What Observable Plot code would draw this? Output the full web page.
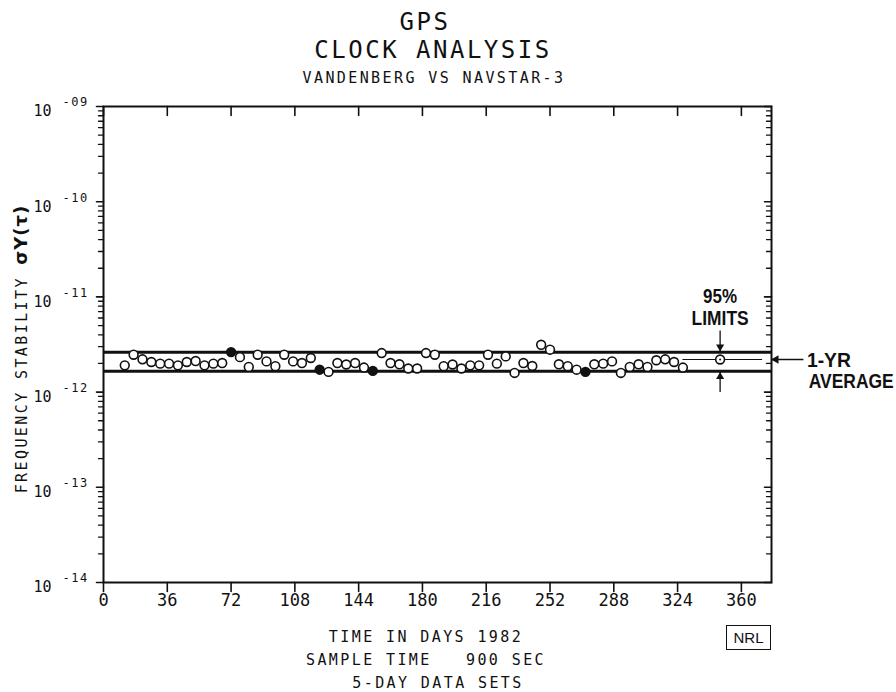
<!DOCTYPE html>
<html>
<head>
<meta charset="utf-8">
<script src="https://cdn.jsdelivr.net/npm/d3@7"></script>
<script src="https://cdn.jsdelivr.net/npm/@observablehq/plot@0.6"></script>
<style>
  body { margin: 0; background: #fff; }
  #wrap { position: relative; width: 896px; height: 692px; overflow: hidden; font-family: "DejaVu Sans Mono", monospace; color: #111; background: #fff; }
  #wrap svg { position: absolute; left: 0; top: 0; }
  .t { position: absolute; white-space: pre; transform: translate(-50%, -50%); line-height: 1; }
  .ytitle { position: absolute; white-space: pre; transform: translate(-50%, -50%) rotate(-90deg); line-height: 1; font-size: 15px; letter-spacing: 2.4px; }
  .ytitle b { font-family: "DejaVu Sans", sans-serif; font-size: 18px; letter-spacing: 1px; }
  .nrl { position: absolute; left: 726px; top: 625px; width: 45px; height: 25px; border: 1.6px solid #111; font-family: "Liberation Sans", Arial, sans-serif; font-size: 15px; display: flex; align-items: center; justify-content: center; box-sizing: border-box; }
</style>
</head>
<body>
<div id="wrap">
  <div class="t" style="left:425px;top:22px;font-size:24px;letter-spacing:2.5px">GPS</div>
  <div class="t" style="left:433px;top:50px;font-size:24px;letter-spacing:2.5px">CLOCK ANALYSIS</div>
  <div class="t" style="left:434px;top:78px;font-size:15px;letter-spacing:2.4px">VANDENBERG VS NAVSTAR-3</div>
  <div class="ytitle" style="left:21px;top:349px">FREQUENCY STABILITY <b>σY(τ)</b></div>
  <div class="t" style="left:426px;top:637px;font-size:15px;letter-spacing:2.4px">TIME IN DAYS 1982</div>
  <div class="t" style="left:426px;top:660px;font-size:15px;letter-spacing:2.4px">SAMPLE TIME   900 SEC</div>
  <div class="t" style="left:438px;top:683px;font-size:15px;letter-spacing:2.4px">5-DAY DATA SETS</div>
  <div class="nrl">NRL</div>
</div>
<script>
// ---- data ----
const days = [12, 17, 22, 27, 32, 37, 42, 47, 52, 57, 62, 67, 72, 77, 82, 87, 92, 97, 102, 107,
  112, 117, 122, 127, 132, 137, 142, 147, 152, 157, 162, 167, 172, 177, 182, 187, 192, 197, 202, 207,
  212, 217, 222, 227, 232, 237, 242, 247, 252, 257, 262, 267, 272, 277, 282, 287, 292, 297, 302, 307,
  312, 317, 322, 327];
const stability = [1.91e-12, 2.47e-12, 2.21e-12, 2.07e-12, 1.99e-12, 1.99e-12, 1.91e-12, 2.07e-12, 2.12e-12, 1.91e-12,
  1.99e-12, 2.02e-12, 2.63e-12, 2.33e-12, 1.84e-12, 2.47e-12, 2.10e-12, 1.87e-12, 2.47e-12, 2.10e-12,
  2.02e-12, 2.28e-12, 1.72e-12, 1.63e-12, 2.02e-12, 1.95e-12, 2.02e-12, 1.81e-12, 1.67e-12, 2.57e-12,
  2.02e-12, 1.96e-12, 1.77e-12, 1.77e-12, 2.57e-12, 2.47e-12, 1.87e-12, 1.95e-12, 1.77e-12, 1.91e-12,
  1.91e-12, 2.47e-12, 1.99e-12, 2.37e-12, 1.59e-12, 2.02e-12, 1.88e-12, 3.14e-12, 2.79e-12, 1.96e-12,
  1.87e-12, 1.72e-12, 1.63e-12, 1.96e-12, 1.99e-12, 2.10e-12, 1.59e-12, 1.84e-12, 1.96e-12, 1.84e-12,
  2.16e-12, 2.21e-12, 2.07e-12, 1.81e-12];
const filledDays = [72, 122, 152, 272];
const upperLimit = 2.62e-12;
const lowerLimit = 1.66e-12;
const yearAverage = 2.20e-12;
const legendDay = 348;
const averageSpan = [327, 372];
const limitArrowEnds = [4.44e-12, 1.0e-12];
const averageArrowFrom = 395;
const averageArrowTo = 377;

const xTicks = [0, 36, 72, 108, 144, 180, 216, 252, 288, 324, 360];
const xTickLabels = ["0", "36", "72", "108", "144", "180", "216", "252", "288", "324", "360"];
const yDecades = [1e-9, 1e-10, 1e-11, 1e-12, 1e-13, 1e-14];
const yExponents = ["-09", "-10", "-11", "-12", "-13", "-14"];
const yMinor = [];
for (let e = -14; e <= -10; e++) for (let m = 2; m <= 9; m++) yMinor.push(m * Math.pow(10, e));

const annotations = [
  {label: "95%", day: legendDay, at: upperLimit, dy: -56, anchor: "middle", len: 34},
  {label: "LIMITS", day: legendDay, at: upperLimit, dy: -34, anchor: "middle", len: 57},
  {label: "1-YR", day: 397, at: yearAverage, dy: 1, anchor: "start", len: 44},
  {label: "AVERAGE", day: 398, at: yearAverage, dy: 22, anchor: "start", len: 85}
];

const points = days.map((d, i) => ({day: d, value: stability[i], filled: filledDays.includes(d)}));

const tickShape = {draw(ctx, l) { ctx.moveTo(0, 0); ctx.lineTo(0, -l); }};
const ink = "#111";
const boldSans = "'Liberation Sans', Arial, sans-serif";

const chart = Plot.plot({
  width: 896,
  height: 692,
  marginLeft: 103,
  marginRight: 125,
  marginTop: 106,
  marginBottom: 110,
  style: {fontFamily: "'DejaVu Sans Mono', monospace", fontSize: "16px", color: ink, background: "transparent", overflow: "visible"},
  x: {domain: [0, 377], axis: null},
  y: {type: "log", domain: [1e-14, 1e-9], axis: null},
  marks: [
    // axis ticks
    Plot.vector(xTicks, {x: d => d, frameAnchor: "bottom", length: 9, rotate: 180, anchor: "start", shape: tickShape, stroke: ink, strokeWidth: 1.6}),
    Plot.vector(xTicks, {x: d => d, frameAnchor: "top", length: 9, rotate: 180, anchor: "start", shape: tickShape, stroke: ink, strokeWidth: 1.6}),
    Plot.vector(yDecades, {y: d => d, frameAnchor: "left", length: 7, rotate: -90, anchor: "start", shape: tickShape, stroke: ink, strokeWidth: 1.6}),
    Plot.vector(yMinor, {y: d => d, frameAnchor: "left", length: 5, rotate: -90, anchor: "start", shape: tickShape, stroke: ink, strokeWidth: 1.3}),
    Plot.vector(yDecades, {y: d => d, frameAnchor: "right", length: 7, rotate: -90, anchor: "start", shape: tickShape, stroke: ink, strokeWidth: 1.6}),
    Plot.vector(yMinor, {y: d => d, frameAnchor: "right", length: 5, rotate: -90, anchor: "start", shape: tickShape, stroke: ink, strokeWidth: 1.3}),
    // tick labels
    Plot.text(xTicks, {x: d => d, text: (d, i) => xTickLabels[i], frameAnchor: "bottom", dy: 18, lineAnchor: "middle", fontSize: 17, fill: ink}),
    Plot.text(yDecades, {y: d => d, text: () => "10", frameAnchor: "left", dx: -52, dy: 5, textAnchor: "end", lineAnchor: "middle", fontSize: 15, fill: ink}),
    Plot.text(yDecades, {y: d => d, text: (d, i) => yExponents[i], frameAnchor: "left", dx: -41, dy: -4, textAnchor: "start", lineAnchor: "middle", fontSize: 12, fill: ink}),
    // frame
    Plot.frame({stroke: ink, strokeWidth: 2}),
    // 95% limit lines
    Plot.ruleY([upperLimit, lowerLimit], {stroke: ink, strokeWidth: 3}),
    // data
    Plot.dot(points.filter(d => !d.filled), {x: "day", y: "value", r: 4.4, stroke: ink, strokeWidth: 1.6, fill: "white"}),
    Plot.dot(points.filter(d => d.filled), {x: "day", y: "value", r: 4.4, stroke: ink, strokeWidth: 1.6, fill: ink}),
    // legend: 1-yr average and limits
    Plot.ruleY([yearAverage], {x1: averageSpan[0], x2: averageSpan[1], stroke: ink, strokeWidth: 1}),
    Plot.dot([yearAverage], {x: () => legendDay, y: d => d, r: 4.4, stroke: ink, strokeWidth: 1.6, fill: "white"}),
    Plot.dot([yearAverage], {x: () => legendDay, y: d => d, r: 1, fill: ink}),
    Plot.link([0], {x1: () => legendDay, x2: () => legendDay, y1: () => limitArrowEnds[0], y2: () => upperLimit, stroke: ink, strokeWidth: 1.3}),
    Plot.link([0], {x1: () => legendDay, x2: () => legendDay, y1: () => limitArrowEnds[1], y2: () => lowerLimit, stroke: ink, strokeWidth: 1.3}),
    Plot.dot([upperLimit], {x: () => legendDay, y: d => d, symbol: "triangle", r: 3, rotate: 180, dy: -5.5, fill: ink}),
    Plot.dot([lowerLimit], {x: () => legendDay, y: d => d, symbol: "triangle", r: 3, rotate: 0, dy: 5.5, fill: ink}),
    Plot.link([0], {x1: () => averageArrowFrom, x2: () => averageArrowTo, y1: () => yearAverage, y2: () => yearAverage, stroke: ink, strokeWidth: 1.3}),
    Plot.dot([yearAverage], {x: () => averageArrowTo, y: d => d, symbol: "triangle", r: 3.2, rotate: -90, dx: 4.5, fill: ink}),
    // annotation text
    ...annotations.map((a) => Plot.text([a], {x: "day", y: "at", text: "label", dy: a.dy, textAnchor: a.anchor, lineAnchor: "middle", fontFamily: boldSans, fontWeight: "bold", fontSize: 20, fill: ink}))
  ]
});

const wrap = document.getElementById("wrap");
wrap.insertBefore(chart, wrap.firstChild);
// condense the bold annotation lettering to the reference's narrow type
const noteLen = new Map(annotations.map((a) => [a.label, a.len]));
chart.querySelectorAll("text").forEach((t) => {
  const s = t.textContent;
  if (noteLen.has(s)) {
    t.setAttribute("textLength", noteLen.get(s));
    t.setAttribute("lengthAdjust", "spacingAndGlyphs");
  } else if (yExponents.includes(s)) {
    t.style.letterSpacing = "1.5px";
  }
});
</script>
</body>
</html>
